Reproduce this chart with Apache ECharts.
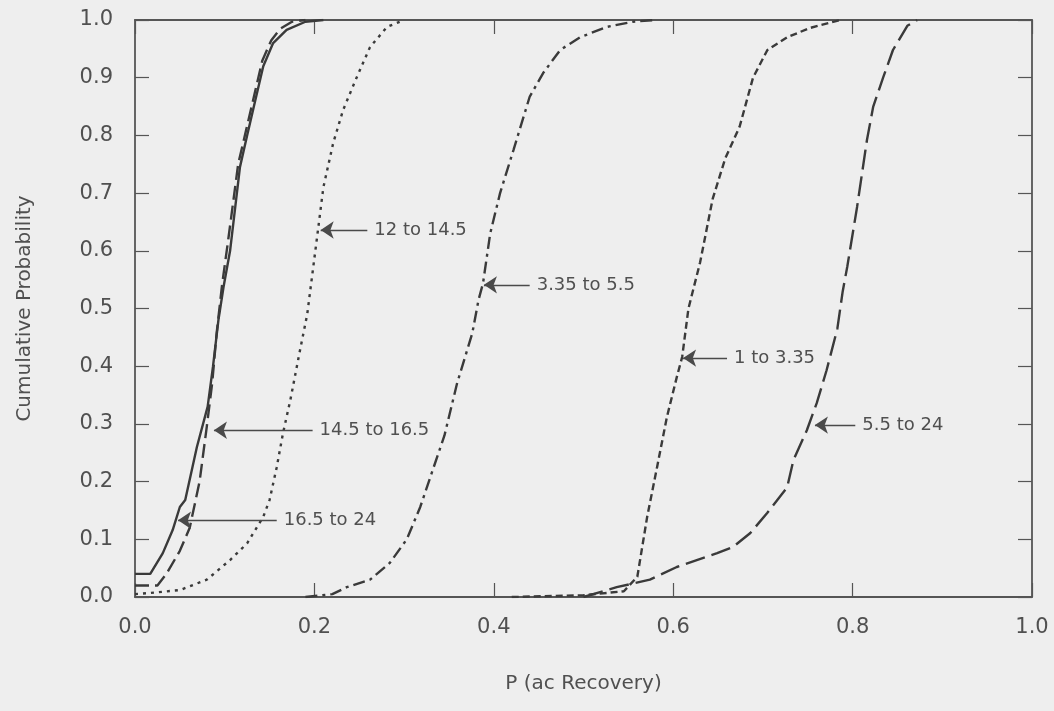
<!DOCTYPE html>
<html>
<head>
<meta charset="utf-8">
<script src="https://cdn.jsdelivr.net/npm/echarts@6/dist/echarts.min.js"></script>
<style>
html,body{margin:0;padding:0;background:#eeeeee;}
#chart{width:1054px;height:711px;}
</style>
</head>
<body>
<div id="chart"></div>
<script>
// ---- data (x = P(ac Recovery), y = cumulative probability) ----
var xTicks = [0.0, 0.2, 0.4, 0.6, 0.8, 1.0];
var yTicks = [0.0, 0.1, 0.2, 0.3, 0.4, 0.5, 0.6, 0.7, 0.8, 0.9, 1.0];

var s16_5to24 = [[0.0,0.04],[0.017,0.04],[0.031,0.076],[0.042,0.116],[0.05,0.156],[0.056,0.168],[0.069,0.26],[0.081,0.33],[0.087,0.40],[0.093,0.48],[0.099,0.54],[0.106,0.60],[0.117,0.745],[0.125,0.80],[0.134,0.86],[0.143,0.92],[0.154,0.96],[0.169,0.983],[0.19,0.997],[0.21,1.0]];
var s14_5to16_5 = [[0.0,0.02],[0.025,0.02],[0.035,0.04],[0.05,0.08],[0.061,0.12],[0.072,0.2],[0.08,0.295],[0.086,0.37],[0.091,0.457],[0.097,0.54],[0.104,0.62],[0.115,0.75],[0.124,0.81],[0.133,0.87],[0.142,0.93],[0.152,0.965],[0.162,0.985],[0.175,0.997],[0.19,1.0]];
var s12to14_5 = [[0.0,0.005],[0.017,0.007],[0.05,0.012],[0.08,0.03],[0.106,0.064],[0.125,0.093],[0.143,0.139],[0.15,0.168],[0.158,0.225],[0.165,0.284],[0.173,0.34],[0.184,0.428],[0.192,0.49],[0.204,0.636],[0.21,0.71],[0.221,0.787],[0.232,0.844],[0.247,0.90],[0.262,0.953],[0.281,0.988],[0.30,1.0]];
var s3_35to5_5 = [[0.19,0.0],[0.22,0.005],[0.236,0.017],[0.262,0.03],[0.284,0.059],[0.303,0.1],[0.318,0.156],[0.333,0.225],[0.345,0.28],[0.359,0.37],[0.376,0.457],[0.383,0.515],[0.388,0.544],[0.396,0.63],[0.407,0.70],[0.422,0.775],[0.44,0.867],[0.455,0.908],[0.474,0.948],[0.496,0.97],[0.526,0.988],[0.555,0.997],[0.58,1.0]];
var s1to3_35 = [[0.42,0.0],[0.5,0.003],[0.545,0.01],[0.56,0.035],[0.571,0.139],[0.582,0.225],[0.593,0.312],[0.604,0.381],[0.61,0.416],[0.617,0.5],[0.63,0.58],[0.644,0.69],[0.658,0.76],[0.674,0.815],[0.689,0.90],[0.705,0.948],[0.727,0.97],[0.752,0.986],[0.786,1.0]];
var s5_5to24 = [[0.50,0.0],[0.537,0.017],[0.574,0.03],[0.604,0.052],[0.649,0.076],[0.667,0.087],[0.686,0.111],[0.705,0.146],[0.727,0.19],[0.734,0.237],[0.749,0.289],[0.760,0.336],[0.771,0.393],[0.783,0.465],[0.789,0.53],[0.794,0.572],[0.805,0.676],[0.816,0.792],[0.823,0.85],[0.834,0.90],[0.845,0.948],[0.861,0.99],[0.872,1.0]];

// annotation arrows (data space)
var annoText = ['12 to 14.5', '3.35 to 5.5', '14.5 to 16.5', '16.5 to 24', '1 to 3.35', '5.5 to 24'];
var annoTipX = [0.207, 0.389, 0.088, 0.048, 0.611, 0.758];
var annoTailX = [0.259, 0.44, 0.198, 0.158, 0.66, 0.803];
var annoY = [0.636, 0.541, 0.289, 0.133, 0.414, 0.298];

// ---- chart ----
var ink = '#3a3a3a';
var textCol = '#505050';
var font = 'DejaVu Sans';

var chart = echarts.init(document.getElementById('chart'), null, {renderer: 'canvas'});

function lineSeries(name, data, dash, width) {
  return {
    name: name, type: 'line', data: data, showSymbol: false, symbol: 'none',
    lineStyle: {color: ink, width: width, type: dash, cap: 'butt'},
    silent: true, z: 3
  };
}

var markData = annoText.map(function (t, i) {
  return [{coord: [annoTailX[i], annoY[i]]}, {coord: [annoTipX[i], annoY[i]]}];
});

var axisCommon = {
  type: 'value', min: 0, max: 1,
  splitLine: {show: false},
  axisLine: {show: true, onZero: false, lineStyle: {color: '#555', width: 1.8}},
  axisTick: {show: true, inside: true, length: 14, lineStyle: {color: '#555', width: 1.2}}
};

var option = {
  backgroundColor: '#eeeeee',
  animation: false,
  grid: {left: 135, top: 20, right: 22, bottom: 114, containLabel: false},
  xAxis: [
    Object.assign({}, axisCommon, {
      position: 'bottom', interval: 0.2,
      name: 'P (ac Recovery)', nameLocation: 'middle', nameGap: 77,
      nameTextStyle: {color: textCol, fontSize: 20, fontFamily: font},
      axisLabel: {color: textCol, fontSize: 21, fontFamily: font, margin: 20,
        formatter: function (v) { return v.toFixed(1); }}
    }),
    Object.assign({}, axisCommon, {
      position: 'top', interval: 0.2,
      axisLabel: {show: false}
    })
  ],
  yAxis: [
    Object.assign({}, axisCommon, {
      position: 'left', interval: 0.1,
      name: 'Cumulative Probability', nameLocation: 'middle', nameGap: 100,
      nameTextStyle: {color: textCol, fontSize: 20, fontFamily: font},
      axisLabel: {color: textCol, fontSize: 21, fontFamily: font, margin: 22,
        formatter: function (v) { return v.toFixed(1); }}
    }),
    Object.assign({}, axisCommon, {
      position: 'right', interval: 0.1,
      axisLabel: {show: false}
    })
  ],
  series: [
    lineSeries('16.5 to 24', s16_5to24, 'solid', 2.4),
    lineSeries('14.5 to 16.5', s14_5to16_5, [14, 6], 2.4),
    lineSeries('12 to 14.5', s12to14_5, [3, 5], 2.4),
    lineSeries('3.35 to 5.5', s3_35to5_5, [12, 5, 3, 5], 2.4),
    lineSeries('1 to 3.35', s1to3_35, [7, 4], 2.4),
    lineSeries('5.5 to 24', s5_5to24, [20, 7], 2.4),
    {
      name: 'annotations', type: 'line', data: [], silent: true,
      itemStyle: {color: '#3a3a3a'},
      markLine: {
        silent: true, animation: false,
        symbol: ['none', 'arrow'], symbolSize: 13,
        itemStyle: {color: '#3a3a3a'},
        lineStyle: {color: '#4a4a4a', width: 1.4, type: 'solid'},
        label: {
          show: true, position: 'start', distance: 7,
          color: textCol, fontSize: 18, fontFamily: font,
          formatter: function (p) { return annoText[p.dataIndex]; }
        },
        emphasis: {disabled: true},
        data: markData
      }
    }
  ]
};
chart.setOption(option);
</script>
</body>
</html>
